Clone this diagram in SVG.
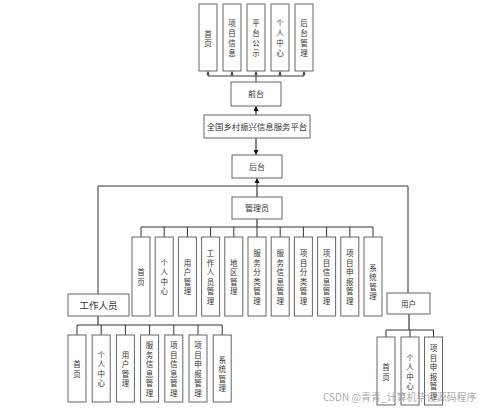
<svg xmlns="http://www.w3.org/2000/svg" width="499" height="409" viewBox="0 0 499 409">
<defs>
<marker id="ah" viewBox="0 0 10 10" refX="9" refY="5" markerWidth="5" markerHeight="5" orient="auto-start-reverse">
<path d="M0,0 L10,5 L0,10 z" fill="#111"/>
</marker>
<marker id="ahs" viewBox="0 0 10 10" refX="9" refY="5" markerWidth="3.5" markerHeight="3.5" orient="auto">
<path d="M0,0 L10,5 L0,10 z" fill="#444"/>
</marker>
</defs>
<style>
.b{fill:#fff;stroke:#666;stroke-width:1}
.t{font-family:"Noto Sans CJK SC","Liberation Sans",sans-serif;fill:#333;text-anchor:middle}
.v{font-size:7.5px}
.c{fill:none;stroke:#333;stroke-width:1}
.ca{fill:none;stroke:#111;stroke-width:1}
</style>
<rect width="499" height="409" fill="#fff"/>
<g id="connectors">
<polyline class="c" points="256,82 256,76"/>
<line class="c" x1="208" y1="76" x2="304" y2="76"/>
<line class="c" x1="208" y1="76" x2="208" y2="71.5" marker-end="url(#ahs)"/>
<line class="c" x1="232" y1="76" x2="232" y2="71.5" marker-end="url(#ahs)"/>
<line class="c" x1="256" y1="76" x2="256" y2="71.5" marker-end="url(#ahs)"/>
<line class="c" x1="280" y1="76" x2="280" y2="71.5" marker-end="url(#ahs)"/>
<line class="c" x1="304" y1="76" x2="304" y2="71.5" marker-end="url(#ahs)"/>
<line class="ca" x1="256" y1="115" x2="256" y2="106.5" marker-end="url(#ah)"/>
<line class="ca" x1="256" y1="138" x2="256" y2="154.5" marker-end="url(#ah)"/>
<line class="ca" x1="257" y1="197" x2="257" y2="178.5" marker-end="url(#ah)"/>
<polyline class="c" points="98,294 98,186 408,186 408,293"/>
<line class="ca" x1="257" y1="219" x2="257" y2="227"/>
<line class="c" x1="141" y1="227" x2="373" y2="227"/>
<g class="c">
<line x1="141" y1="227" x2="141" y2="237"/>
<line x1="164.2" y1="227" x2="164.2" y2="237"/>
<line x1="187.4" y1="227" x2="187.4" y2="237"/>
<line x1="210.6" y1="227" x2="210.6" y2="237"/>
<line x1="233.8" y1="227" x2="233.8" y2="237"/>
<line x1="257" y1="227" x2="257" y2="237"/>
<line x1="280.2" y1="227" x2="280.2" y2="237"/>
<line x1="303.4" y1="227" x2="303.4" y2="237"/>
<line x1="326.6" y1="227" x2="326.6" y2="237"/>
<line x1="349.8" y1="227" x2="349.8" y2="237"/>
<line x1="373" y1="227" x2="373" y2="237"/>
</g>
<line class="ca" x1="98" y1="316" x2="98" y2="325"/>
<line class="c" x1="77" y1="325" x2="222" y2="325"/>
<g class="c">
<line x1="77" y1="325" x2="77" y2="335"/>
<line x1="101.2" y1="325" x2="101.2" y2="335"/>
<line x1="125.4" y1="325" x2="125.4" y2="335"/>
<line x1="149.6" y1="325" x2="149.6" y2="335"/>
<line x1="173.8" y1="325" x2="173.8" y2="335"/>
<line x1="198" y1="325" x2="198" y2="335"/>
<line x1="222.2" y1="325" x2="222.2" y2="335"/>
</g>
<line class="ca" x1="409" y1="314" x2="409" y2="330"/>
<line class="c" x1="386" y1="330" x2="433.5" y2="330"/>
<g class="c">
<line x1="386" y1="330" x2="386" y2="337"/>
<line x1="410" y1="330" x2="410" y2="337"/>
<line x1="433.5" y1="330" x2="433.5" y2="337"/>
</g>
</g>
<g id="top1"><rect class="b" x="199" y="4" width="18" height="67"/><text class="t v"><tspan x="208" y="36.5">首</tspan><tspan x="208" y="46">页</tspan></text></g>
<g id="top2"><rect class="b" x="223" y="4" width="18" height="67"/><text class="t v"><tspan x="232" y="26">项</tspan><tspan x="232" y="36">目</tspan><tspan x="232" y="46">信</tspan><tspan x="232" y="56">息</tspan></text></g>
<g id="top3"><rect class="b" x="247" y="4" width="18" height="67"/><text class="t v"><tspan x="256" y="26">平</tspan><tspan x="256" y="36">台</tspan><tspan x="256" y="46">公</tspan><tspan x="256" y="56">示</tspan></text></g>
<g id="top4"><rect class="b" x="271" y="4" width="18" height="67"/><text class="t v"><tspan x="280" y="26">个</tspan><tspan x="280" y="36">人</tspan><tspan x="280" y="46">中</tspan><tspan x="280" y="56">心</tspan></text></g>
<g id="top5"><rect class="b" x="295" y="4" width="18" height="67"/><text class="t v"><tspan x="304" y="26">后</tspan><tspan x="304" y="36">台</tspan><tspan x="304" y="46">管</tspan><tspan x="304" y="56">理</tspan></text></g>
<g id="qiantai"><rect class="b" x="231" y="82" width="50" height="24"/><text class="t" x="256" y="96.5" font-size="8">前台</text></g>
<g id="platform"><rect class="b" x="204" y="115" width="106" height="23"/><text class="t" x="257" y="129.5" font-size="8.4">全国乡村振兴信息服务平台</text></g>
<g id="houtai"><rect class="b" x="232" y="155" width="50" height="23"/><text class="t" x="257" y="169.5" font-size="8">后台</text></g>
<g id="admin"><rect class="b" x="232" y="197" width="50" height="22"/><text class="t" x="257" y="211" font-size="8">管理员</text></g>
<g id="a1"><rect class="b" x="132" y="237" width="18" height="79"/><text class="t v"><tspan x="141" y="275">首</tspan><tspan x="141" y="284.5">页</tspan></text></g>
<g id="a2"><rect class="b" x="155.2" y="237" width="18" height="79"/><text class="t v"><tspan x="164.2" y="265.5">个</tspan><tspan x="164.2" y="275">人</tspan><tspan x="164.2" y="284.5">中</tspan><tspan x="164.2" y="294">心</tspan></text></g>
<g id="a3"><rect class="b" x="178.4" y="237" width="18" height="79"/><text class="t v"><tspan x="187.4" y="265.5">用</tspan><tspan x="187.4" y="275">户</tspan><tspan x="187.4" y="284.5">管</tspan><tspan x="187.4" y="294">理</tspan></text></g>
<g id="a4"><rect class="b" x="201.6" y="237" width="18" height="79"/><text class="t v"><tspan x="210.6" y="256">工</tspan><tspan x="210.6" y="265.5">作</tspan><tspan x="210.6" y="275">人</tspan><tspan x="210.6" y="284.5">员</tspan><tspan x="210.6" y="294">管</tspan><tspan x="210.6" y="303.5">理</tspan></text></g>
<g id="a5"><rect class="b" x="224.8" y="237" width="18" height="79"/><text class="t v"><tspan x="233.8" y="265.5">地</tspan><tspan x="233.8" y="275">区</tspan><tspan x="233.8" y="284.5">管</tspan><tspan x="233.8" y="294">理</tspan></text></g>
<g id="a6"><rect class="b" x="248" y="237" width="18" height="79"/><text class="t v"><tspan x="257" y="256">服</tspan><tspan x="257" y="265.5">务</tspan><tspan x="257" y="275">分</tspan><tspan x="257" y="284.5">类</tspan><tspan x="257" y="294">管</tspan><tspan x="257" y="303.5">理</tspan></text></g>
<g id="a7"><rect class="b" x="271.2" y="237" width="18" height="79"/><text class="t v"><tspan x="280.2" y="256">服</tspan><tspan x="280.2" y="265.5">务</tspan><tspan x="280.2" y="275">信</tspan><tspan x="280.2" y="284.5">息</tspan><tspan x="280.2" y="294">管</tspan><tspan x="280.2" y="303.5">理</tspan></text></g>
<g id="a8"><rect class="b" x="294.4" y="237" width="18" height="79"/><text class="t v"><tspan x="303.4" y="256">项</tspan><tspan x="303.4" y="265.5">目</tspan><tspan x="303.4" y="275">分</tspan><tspan x="303.4" y="284.5">类</tspan><tspan x="303.4" y="294">管</tspan><tspan x="303.4" y="303.5">理</tspan></text></g>
<g id="a9"><rect class="b" x="317.6" y="237" width="18" height="79"/><text class="t v"><tspan x="326.6" y="256">项</tspan><tspan x="326.6" y="265.5">目</tspan><tspan x="326.6" y="275">信</tspan><tspan x="326.6" y="284.5">息</tspan><tspan x="326.6" y="294">管</tspan><tspan x="326.6" y="303.5">理</tspan></text></g>
<g id="a10"><rect class="b" x="340.8" y="237" width="18" height="79"/><text class="t v"><tspan x="349.8" y="256">项</tspan><tspan x="349.8" y="265.5">目</tspan><tspan x="349.8" y="275">申</tspan><tspan x="349.8" y="284.5">报</tspan><tspan x="349.8" y="294">管</tspan><tspan x="349.8" y="303.5">理</tspan></text></g>
<g id="a11"><rect class="b" x="364" y="237" width="18" height="79"/><text class="t v"><tspan x="373" y="270.5">系</tspan><tspan x="373" y="280">统</tspan><tspan x="373" y="289.5">管</tspan><tspan x="373" y="299">理</tspan></text></g>
<g id="worker"><rect class="b" x="68" y="294" width="61" height="22"/><text class="t" x="98.5" y="308.5" font-size="9.5">工作人员</text></g>
<g id="w1"><rect class="b" x="68" y="335" width="18" height="67"/><text class="t v"><tspan x="77" y="367">首</tspan><tspan x="77" y="376.5">页</tspan></text></g>
<g id="w2"><rect class="b" x="92.2" y="335" width="18" height="67"/><text class="t v"><tspan x="101.2" y="357.5">个</tspan><tspan x="101.2" y="367">人</tspan><tspan x="101.2" y="376.5">中</tspan><tspan x="101.2" y="386">心</tspan></text></g>
<g id="w3"><rect class="b" x="116.4" y="335" width="18" height="67"/><text class="t v"><tspan x="125.4" y="357.5">用</tspan><tspan x="125.4" y="367">户</tspan><tspan x="125.4" y="376.5">管</tspan><tspan x="125.4" y="386">理</tspan></text></g>
<g id="w4"><rect class="b" x="140.6" y="335" width="18" height="67"/><text class="t v"><tspan x="149.6" y="348">服</tspan><tspan x="149.6" y="357.5">务</tspan><tspan x="149.6" y="367">信</tspan><tspan x="149.6" y="376.5">息</tspan><tspan x="149.6" y="386">管</tspan><tspan x="149.6" y="395.5">理</tspan></text></g>
<g id="w5"><rect class="b" x="164.8" y="335" width="18" height="67"/><text class="t v"><tspan x="173.8" y="348">项</tspan><tspan x="173.8" y="357.5">目</tspan><tspan x="173.8" y="367">信</tspan><tspan x="173.8" y="376.5">息</tspan><tspan x="173.8" y="386">管</tspan><tspan x="173.8" y="395.5">理</tspan></text></g>
<g id="w6"><rect class="b" x="189" y="335" width="18" height="67"/><text class="t v"><tspan x="198" y="348">项</tspan><tspan x="198" y="357.5">目</tspan><tspan x="198" y="367">申</tspan><tspan x="198" y="376.5">报</tspan><tspan x="198" y="386">管</tspan><tspan x="198" y="395.5">理</tspan></text></g>
<g id="w7"><rect class="b" x="213.2" y="335" width="18" height="67"/><text class="t v"><tspan x="222.2" y="362.5">系</tspan><tspan x="222.2" y="372">统</tspan><tspan x="222.2" y="381.5">管</tspan><tspan x="222.2" y="391">理</tspan></text></g>
<g id="user"><rect class="b" x="387" y="293" width="43" height="21"/><text class="t" x="408.5" y="306.5" font-size="7.5">用户</text></g>
<g id="u1"><rect class="b" x="377" y="337" width="18" height="68"/><text class="t v"><tspan x="386" y="370">首</tspan><tspan x="386" y="379.5">页</tspan></text></g>
<g id="u2"><rect class="b" x="401" y="337" width="18" height="68"/><text class="t v"><tspan x="410" y="360.5">个</tspan><tspan x="410" y="370">人</tspan><tspan x="410" y="379.5">中</tspan><tspan x="410" y="389">心</tspan></text></g>
<g id="u3"><rect class="b" x="424.5" y="337" width="18" height="68"/><text class="t v"><tspan x="433.5" y="351">项</tspan><tspan x="433.5" y="360.5">目</tspan><tspan x="433.5" y="370">申</tspan><tspan x="433.5" y="379.5">报</tspan><tspan x="433.5" y="389">管</tspan><tspan x="433.5" y="398.5">理</tspan></text></g>
<text x="323" y="401" font-family="&quot;Noto Sans CJK SC&quot;,&quot;Liberation Sans&quot;,sans-serif" font-size="10" fill="#999" fill-opacity="0.85">CSDN @青青_计算机毕设源码程序</text>
</svg>
